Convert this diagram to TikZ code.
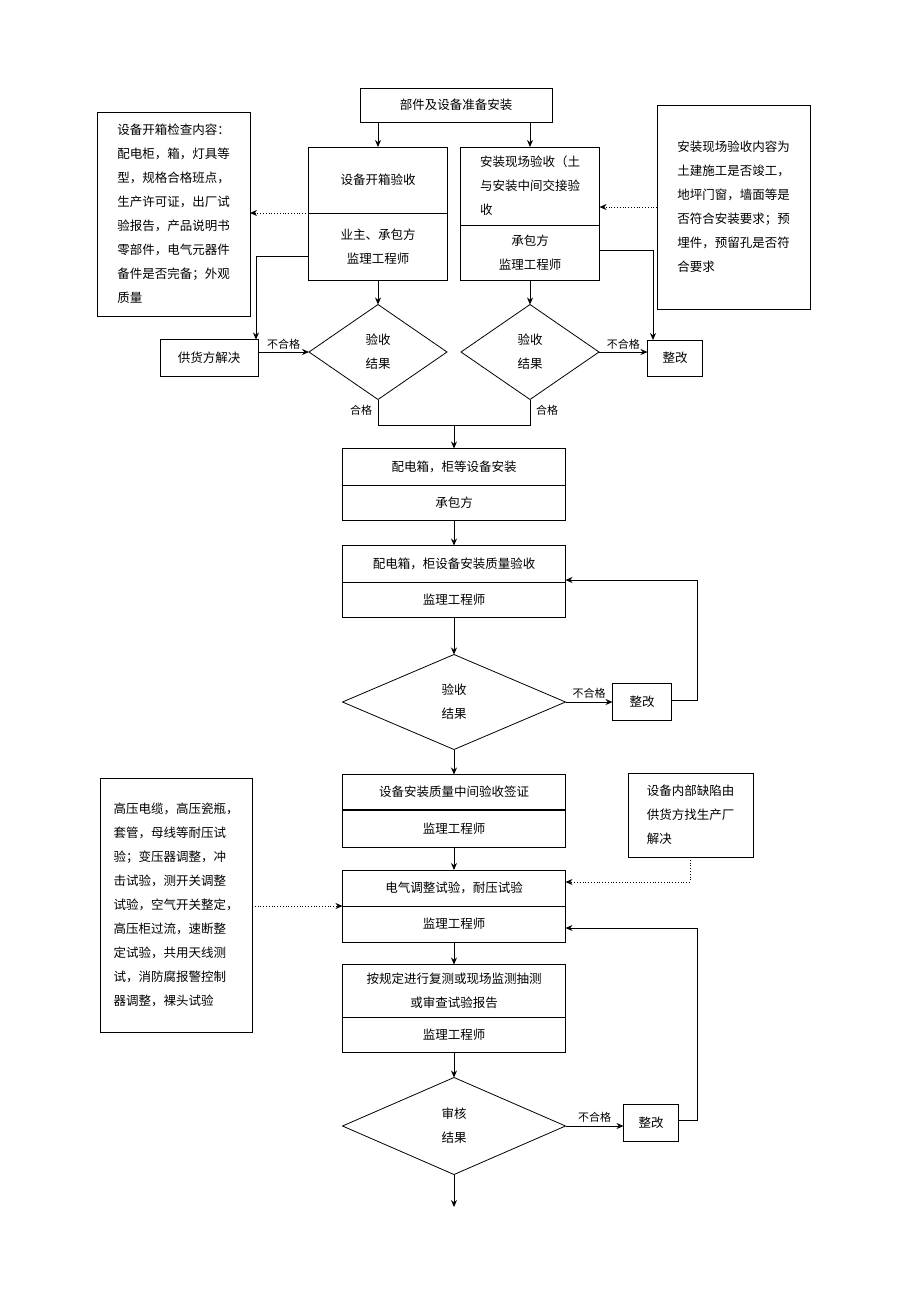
\documentclass[tikz,border=0pt]{standalone}
\usepackage{fontspec}
\setmainfont{Noto Sans CJK SC}
\usetikzlibrary{arrows.meta}
\usetikzlibrary{shapes.geometric}

\begin{document}
\begin{tikzpicture}[x=1pt,y=-1pt,inner sep=0pt,outer sep=0pt,thick,>={Stealth[length=7pt,width=6pt]},
every node/.style={font=\fontsize{12.5}{24}\selectfont},
box/.style={draw,rectangle,align=center},
dec/.style={draw,diamond,aspect=1.45},
note/.style={draw,rectangle,align=left,inner sep=12pt,anchor=north west},
lbl/.style={font=\fontsize{11}{13}\selectfont}]
\useasboundingbox (0,0) rectangle (920,1302);

% top part
\draw (456,105) node[box,minimum width=192pt,minimum height=34pt] (top) {部件及设备准备安装};
\draw (378,180) node[box,minimum width=139pt,minimum height=66pt] (a1) {设备开箱验收};
\draw (378,247) node[box,minimum width=139pt,minimum height=67pt] (a2) {业主、承包方\\监理工程师};
\draw (530,186) node[box,minimum width=139pt,minimum height=78pt,align=left] (b1) {安装现场验收（土\\与安装中间交接验\\收};
\draw (530,253) node[box,minimum width=139pt,minimum height=55pt] (b2) {承包方\\监理工程师};
\draw (97,112) node[note,minimum width=153pt,minimum height=204pt,inner sep=10pt] (n1) {设备开箱检查内容：\\配电柜，箱，灯具等\\型，规格合格班点，\\生产许可证，出厂试\\验报告，产品说明书\\零部件，电气元器件\\备件是否完备；外观\\质量};
\draw (657,105) node[note,minimum width=153pt,minimum height=204pt,inner sep=10pt] (n2) {安装现场验收内容为\\土建施工是否竣工，\\地坪门窗，墙面等是\\否符合安装要求；预\\埋件，预留孔是否符\\合要求};
\draw (378,352) node[dec,minimum width=138pt,minimum height=95pt,align=center] (d1) {验收\\结果};
\draw (530,352) node[dec,minimum width=138pt,minimum height=95pt,align=center] (d2) {验收\\结果};
\draw (209,358) node[box,minimum width=98pt,minimum height=37pt] (sup) {供货方解决};
\draw (675,358) node[box,minimum width=55pt,minimum height=36pt] (fix1) {整改};

\draw[->] (top.south -| a1.north) -- (a1.north);
\draw[->] (top.south -| b1.north) -- (b1.north);
\draw[->,dotted] (a1.south west) -- (n1.east |- a1.south west);
\draw[->,dotted] (n2.west |- 0,207) -- (b1.east |- 0,207);
\draw[->] (a2.west |- 0,256) -| (sup.north -| 256,0);
\draw[->] (b2.east |- 0,250) -| (fix1.north -| 653,0);
\draw[->] (a2.south) -- (d1.north);
\draw[->] (b2.south) -- (d2.north);
\draw[->] (sup.east |- d1.west) -- node[lbl,above=3pt] {不合格} (d1.west);
\draw[->] (d2.east) -- node[lbl,above=3pt] {不合格} (fix1.west |- d2.east);
\draw (d1.south) node[lbl,below left=6pt] {合格} -- (378,425) -- (530,425) -- (d2.south) node[lbl,below right=6pt] {合格};

% middle part
\draw (454,467) node[box,minimum width=223pt,minimum height=37pt] (c1) {配电箱，柜等设备安装};
\draw (454,503) node[box,minimum width=223pt,minimum height=35pt] (c2) {承包方};
\draw (454,564) node[box,minimum width=223pt,minimum height=37pt] (e1) {配电箱，柜设备安装质量验收};
\draw (454,600) node[box,minimum width=223pt,minimum height=35pt] (e2) {监理工程师};
\draw (454,702) node[dec,minimum width=223pt,minimum height=95pt,aspect=2.3,align=center] (d3) {验收\\结果};
\draw (642,702) node[box,minimum width=59pt,minimum height=37pt] (fix2) {整改};

\draw[->] (454,425) -- (c1.north);
\draw[->] (c2.south) -- (e1.north);
\draw[->] (e2.south) -- (d3.north);
\draw[->] (d3.east) -- node[lbl,above=4pt] {不合格} (fix2.west);
\draw[->] (fix2.east |- 0,700) -- (697,700) |- (e1.east |- 0,580);

% lower part
\draw (454,792) node[box,minimum width=223pt,minimum height=35pt] (f1) {设备安装质量中间验收签证};
\draw (454,829) node[box,minimum width=223pt,minimum height=37pt] (f2) {监理工程师};
\draw (454,888) node[box,minimum width=223pt,minimum height=36pt] (g1) {电气调整试验，耐压试验};
\draw (454,924) node[box,minimum width=223pt,minimum height=36pt] (g2) {监理工程师};
\draw (454,991) node[box,minimum width=223pt,minimum height=53pt] (h1) {按规定进行复测或现场监测抽测\\或审查试验报告};
\draw (454,1035) node[box,minimum width=223pt,minimum height=35pt] (h2) {监理工程师};
\draw (454,1126) node[dec,minimum width=223pt,minimum height=97pt,aspect=2.3,align=center] (d4) {审核\\结果};
\draw (651,1123) node[box,minimum width=55pt,minimum height=37pt] (fix3) {整改};
\draw (628,773) node[note,minimum width=125pt,minimum height=84pt,inner sep=10pt] (n3) {设备内部缺陷由\\供货方找生产厂\\解决};
\draw (100,778) node[note,minimum width=152pt,minimum height=254pt,inner sep=10pt] (n4) {高压电缆，高压瓷瓶，\\套管，母线等耐压试\\验；变压器调整，冲\\击试验，测开关调整\\试验，空气开关整定，\\高压柜过流，速断整\\定试验，共用天线测\\试，消防腐报警控制\\器调整，裸头试验};
\coordinate (out) at (454,1207);

\draw[->] (d3.south) -- (f1.north);
\draw[->] (f2.south) -- (g1.north);
\draw[->,dotted] (690,857) -- (690,882) -- (g1.east |- 0,882);
\draw[->,dotted] (n4.east |- 0,906) -- (g1.south west);
\draw[->] (g2.south) -- (h1.north);
\draw[->] (h2.south) -- (d4.north);
\draw[->] (d4.east) -- node[lbl,above=4pt] {不合格} (fix3.west |- d4.east);
\draw[->] (fix3.east |- 0,1120) -- (697,1120) |- (g2.east |- 0,928);
\draw[->] (d4.south) -- (out);
\end{tikzpicture}
\end{document}
